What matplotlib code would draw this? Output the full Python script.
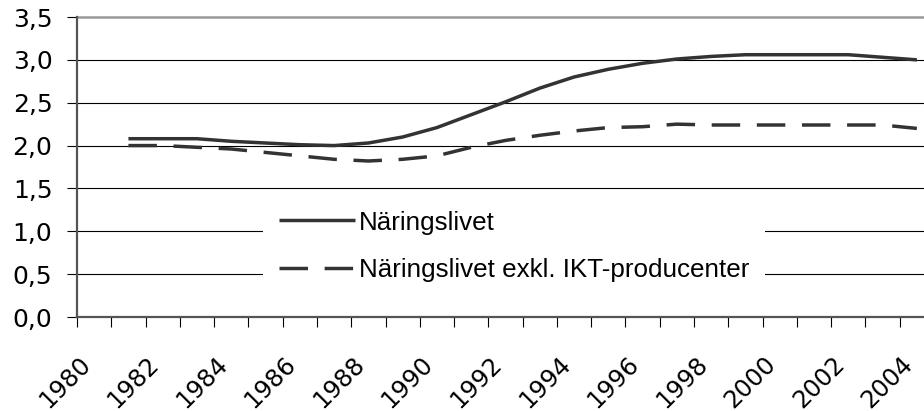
import matplotlib.pyplot as plt
from matplotlib.transforms import ScaledTranslation
import numpy as np

plt.rcParams['font.family'] = ['Liberation Sans', 'DejaVu Sans']

# Data
years = list(range(1981, 2005))
naringslivet = [2.08, 2.08, 2.08, 2.05, 2.03, 2.01, 2.00, 2.03, 2.10, 2.21,
                2.36, 2.51, 2.67, 2.80, 2.89, 2.96, 3.01, 3.04, 3.06, 3.06,
                3.06, 3.06, 3.03, 3.00]
exkl_ikt = [2.00, 2.00, 1.98, 1.96, 1.92, 1.88, 1.84, 1.82, 1.84, 1.88,
            1.98, 2.06, 2.12, 2.17, 2.21, 2.22, 2.25, 2.24, 2.24, 2.24,
            2.24, 2.24, 2.24, 2.20]
label_years = list(range(1980, 2005, 2))
y_ticks = [0.0, 0.5, 1.0, 1.5, 2.0, 2.5, 3.0, 3.5]

fig = plt.figure(figsize=(9.24, 4.11), dpi=100)
ax = fig.add_axes([77 / 924, 1 - 317 / 411, (934 - 77) / 924, 300 / 411])

line_color = '#333333'
ax.plot(years, naringslivet, color=line_color, lw=2.5, label='Näringslivet',
        solid_capstyle='butt')
ax.plot(years, exkl_ikt, color=line_color, lw=2.5, linestyle=(0, (8.2, 4.8)),
        dash_capstyle='butt', label='Näringslivet exkl. IKT-producenter')

ax.set_xlim(1979.5, 2004.5)
ax.set_ylim(0, 3.5)

# horizontal gridlines
for v in y_ticks[1:-1]:
    ax.axhline(v, color='black', lw=0.8, zorder=0.5)
ax.axhline(3.5, color='#999999', lw=1.8, zorder=0.5, clip_on=False)

for side in ['top', 'right']:
    ax.spines[side].set_visible(False)
for side in ['left', 'bottom']:
    ax.spines[side].set_color('#555555')
    ax.spines[side].set_linewidth(1.6)

tick_font = 'DejaVu Sans'
ax.set_yticks(y_ticks)
ax.set_yticklabels([f'{v:.1f}'.replace('.', ',') for v in y_ticks],
                   family=tick_font)
ax.tick_params(axis='y', direction='out', length=7.2, width=0.8,
               labelsize=18, pad=10.5)

ax.set_xticks(label_years)
ax.set_xticklabels([str(y) for y in label_years], rotation=45, family=tick_font,
                   ha='right', va='top', rotation_mode='anchor')
ax.set_xticks(np.arange(1979.5, 2005, 1.0), minor=True)
ax.tick_params(axis='x', which='major', length=0, labelsize=17.5, pad=25)
ax.tick_params(axis='x', which='minor', direction='out', length=7.2, width=0.8)
shift = ScaledTranslation(-0.16, 0, fig.dpi_scale_trans)
for lab in ax.get_xticklabels():
    lab.set_transform(lab.get_transform() + shift)

leg = ax.legend(loc='upper left', bbox_to_anchor=(263 / 924, 1 - 195 / 411),
                bbox_transform=fig.transFigure, fontsize=18.7, frameon=True,
                facecolor='white', edgecolor='none', framealpha=1,
                fancybox=False, borderaxespad=0, borderpad=0.6,
                handlelength=2.95, handletextpad=0.15, labelspacing=0.92)

fig.savefig('out.png', dpi=100)
